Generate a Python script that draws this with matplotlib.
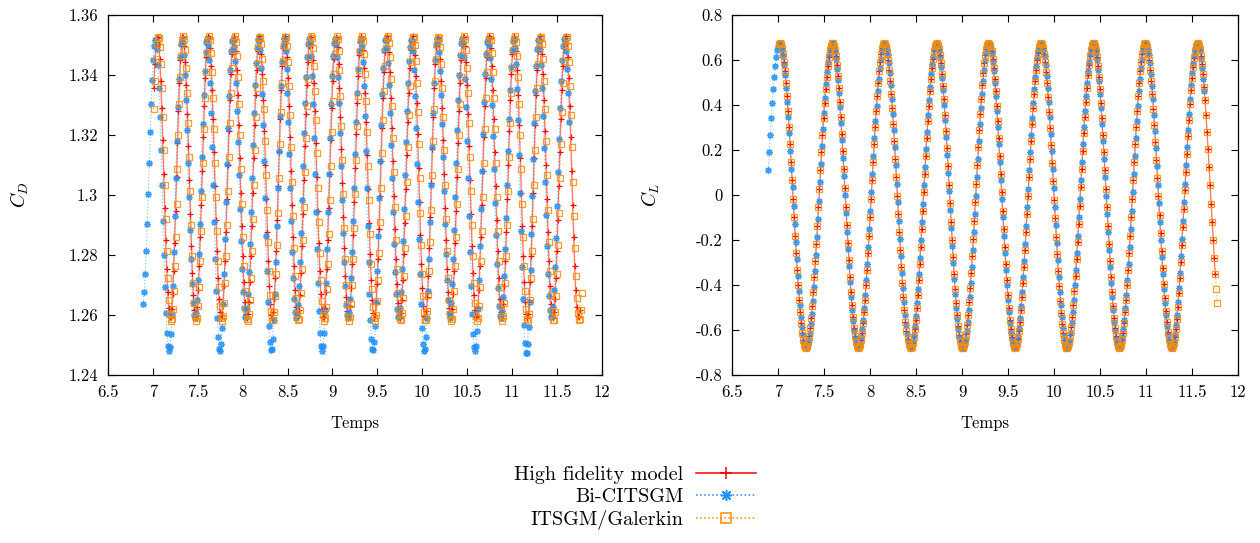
import numpy as np
import matplotlib
matplotlib.use('Agg')
import matplotlib.pyplot as plt
from matplotlib.ticker import FuncFormatter
from matplotlib.lines import Line2D

plt.rcParams['font.family'] = ['cmr10', 'DejaVu Serif']
plt.rcParams['mathtext.fontset'] = 'cm'
plt.rcParams['axes.unicode_minus'] = False

dt = 0.011

# ---- C_D : extrema (time, value) ----
cd_hf_t = [7.050, 7.192, 7.334, 7.476, 7.618, 7.760, 7.902, 8.044, 8.186, 8.328,
           8.470, 8.612, 8.754, 8.896, 9.038, 9.180, 9.322, 9.464, 9.606, 9.748,
           9.890, 10.032, 10.174, 10.316, 10.458, 10.600, 10.742, 10.884, 11.026,
           11.168, 11.310, 11.452, 11.594, 11.736, 11.878]
cd_hf_v = [1.353, 1.259, 1.353, 1.259, 1.353, 1.259, 1.353, 1.259, 1.353, 1.259,
           1.353, 1.259, 1.353, 1.259, 1.353, 1.259, 1.353, 1.259, 1.353, 1.259,
           1.353, 1.259, 1.353, 1.259, 1.353, 1.259, 1.353, 1.259, 1.353, 1.259,
           1.353, 1.259, 1.353, 1.259, 1.353]

cd_bi_t = [6.880, 7.030, 7.180, 7.322, 7.464, 7.606, 7.748, 7.890, 8.032, 8.174,
           8.316, 8.458, 8.600, 8.742, 8.884, 9.026, 9.168, 9.310, 9.452, 9.594,
           9.736, 9.878, 10.020, 10.162, 10.304, 10.446, 10.588, 10.730, 10.872,
           11.014, 11.156, 11.298, 11.440, 11.582, 11.724]
cd_bi_v = [1.262, 1.352, 1.248, 1.352, 1.259, 1.352, 1.248, 1.352, 1.259, 1.352,
           1.248, 1.352, 1.259, 1.352, 1.248, 1.352, 1.259, 1.352, 1.248, 1.352,
           1.259, 1.352, 1.248, 1.352, 1.259, 1.352, 1.248, 1.352, 1.259, 1.352,
           1.247, 1.352, 1.259, 1.352, 1.259]

cd_it_t = [7.058, 7.200, 7.342, 7.484, 7.626, 7.768, 7.910, 8.052, 8.194, 8.336,
           8.478, 8.620, 8.762, 8.904, 9.046, 9.188, 9.330, 9.472, 9.614, 9.756,
           9.898, 10.040, 10.182, 10.324, 10.466, 10.608, 10.750, 10.892, 11.034,
           11.176, 11.318, 11.460, 11.602, 11.744, 11.886]
cd_it_v = [1.353, 1.258, 1.353, 1.258, 1.353, 1.258, 1.353, 1.258, 1.353, 1.258,
           1.353, 1.258, 1.353, 1.258, 1.353, 1.258, 1.353, 1.258, 1.353, 1.258,
           1.353, 1.258, 1.353, 1.258, 1.353, 1.258, 1.353, 1.258, 1.353, 1.258,
           1.353, 1.258, 1.353, 1.258, 1.353]

# ---- C_L : extrema ----
cl_hf_t = [6.736, 7.020, 7.304, 7.588, 7.871, 8.155, 8.439, 8.723, 9.006, 9.290,
           9.574, 9.858, 10.141, 10.425, 10.709, 10.993, 11.276, 11.560, 11.844]
cl_hf_v = [-0.68, 0.675, -0.68, 0.675, -0.68, 0.675, -0.68, 0.675, -0.68, 0.675,
           -0.68, 0.675, -0.68, 0.675, -0.68, 0.675, -0.68, 0.675, -0.68]

# time spans of each saved series
cd_span = {'hf': (7.01, 11.757), 'bi': (6.893, 11.64), 'it': (7.01, 11.78)}
cl_span = {'hf': (7.01, 11.757), 'bi': (6.893, 11.64), 'it': (7.01, 11.78)}

labels = ['High fidelity model', 'Bi-CITSGM', 'ITSGM/Galerkin']


def between_extrema(t, te, ve):
    # half-cosine arc between consecutive read extrema
    te = np.asarray(te)
    ve = np.asarray(ve)
    i = np.clip(np.searchsorted(te, t) - 1, 0, len(te) - 2)
    s = (t - te[i]) / (te[i + 1] - te[i])
    w = 0.5 - 0.5 * np.cos(np.pi * s)
    return ve[i] + (ve[i + 1] - ve[i]) * w


def samples(span):
    return np.arange(span[0], span[1] + 1e-9, dt)


red = '#ff0000'
blue = '#1e90ff'
orange = '#ff8c00'
ast = (8, 2, 0)


def draw(ax, t_hf, y_hf, t_bi, y_bi, t_it, y_it):
    ax.plot(t_hf, y_hf, '-', color=red, lw=0.9, alpha=0.55)
    ax.plot(t_hf, y_hf, ls='none', marker='+', color=red, ms=5, mew=0.9)
    ax.plot(t_bi, y_bi, ':', color=blue, lw=0.9, alpha=0.5)
    ax.plot(t_bi, y_bi, ls='none', marker=ast, color=blue, ms=5, mew=0.9, alpha=0.85)
    ax.plot(t_it, y_it, ':', color=orange, lw=0.9, alpha=0.5)
    ax.plot(t_it, y_it, ls='none', marker='s', mfc='none', mec=orange, ms=4.8, mew=0.9, alpha=0.85)


fig = plt.figure(figsize=(12.6, 5.43), dpi=100)
ax1 = fig.add_axes([0.0857, 0.3094, 0.392, 0.663])
ax2 = fig.add_axes([0.581, 0.3094, 0.4016, 0.663])

t1 = samples(cd_span['hf'])
t2 = samples(cd_span['bi'])
t3 = samples(cd_span['it'])
draw(ax1, t1, between_extrema(t1, cd_hf_t, cd_hf_v),
     t2, between_extrema(t2, cd_bi_t, cd_bi_v),
     t3, between_extrema(t3, cd_it_t, cd_it_v))

t1 = samples(cl_span['hf'])
t2 = samples(cl_span['bi'])
t3 = samples(cl_span['it'])
draw(ax2, t1, between_extrema(t1, cl_hf_t, cl_hf_v),
     t2, between_extrema(t2, cl_hf_t, cl_hf_v),
     t3, between_extrema(t3, cl_hf_t, cl_hf_v))


def tick_text(v, pos):
    v = round(v, 6)
    if v == 0:
        return '0'
    return '%g' % v


fmt = FuncFormatter(tick_text)
for ax in (ax1, ax2):
    ax.set_xlim(6.5, 12)
    ax.set_xticks(np.arange(6.5, 12.01, 0.5))
    ax.xaxis.set_major_formatter(fmt)
    ax.yaxis.set_major_formatter(fmt)
    ax.tick_params(direction='in', top=True, right=True, length=5, width=0.8,
                   labelsize=12, pad=7)
    for s in ax.spines.values():
        s.set_linewidth(0.9)
    ax.set_xlabel('Temps', fontsize=12, labelpad=11)

ax1.set_ylim(1.24, 1.36)
ax1.set_yticks(np.arange(1.24, 1.3601, 0.02))
ax1.set_ylabel('$C_D$', fontsize=14, labelpad=27)
ax2.set_ylim(-0.8, 0.8)
ax2.set_yticks(np.arange(-0.8, 0.801, 0.2))
ax2.set_ylabel('$C_L$', fontsize=14, labelpad=24)

handles = [
    Line2D([], [], color=red, lw=1.1, marker='+', ms=8, mew=1.1),
    Line2D([], [], color=blue, lw=1.1, ls=':', marker=ast, ms=8, mew=1.1),
    Line2D([], [], color=orange, lw=1.1, ls=':', marker='s', mfc='none', mec=orange, ms=7, mew=1.1),
]
fig.legend(handles, labels, loc='upper right', bbox_to_anchor=(0.6065, 0.157),
           markerfirst=False, frameon=False, fontsize=14.5, handlelength=3.0,
           handletextpad=0.6, labelspacing=0.2, borderaxespad=0)

fig.savefig('out.png', dpi=100)
